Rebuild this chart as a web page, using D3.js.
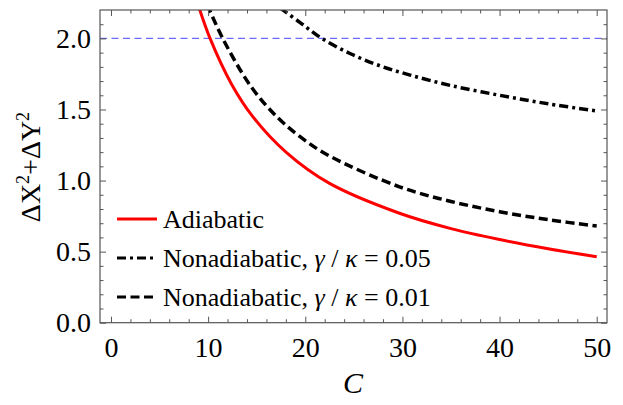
<!DOCTYPE html>
<html><head><meta charset="utf-8">
<script src="https://cdn.jsdelivr.net/npm/d3@7"></script>
<style>body{margin:0;background:#fff}svg{display:block}svg text{font-family:'Liberation Serif',serif}</style>
</head><body>
<svg id="chart" width="623" height="405"></svg>
<script>
// Data
const adiabaticC   = [9.0, 10.2, 12.4, 14.6, 18.1, 22.5, 29.7, 35, 40, 45, 50];
const adiabaticV   = [2.23, 2.0, 1.68, 1.45, 1.195, 0.98, 0.77, 0.662, 0.585, 0.52, 0.464];
const nonad001C    = [9.9, 11.5, 14.4, 17.1, 19.5, 22.3, 29.7, 35, 40, 45, 50];
const nonad001V    = [2.24, 2.0, 1.663, 1.447, 1.307, 1.18, 0.956, 0.853, 0.781, 0.725, 0.68];
const nonad005C    = [17.4, 19.5, 21.7, 24.6, 27.7, 30.8, 34.9, 40, 45, 50];
const nonad005V    = [2.215, 2.11, 2.0, 1.894, 1.807, 1.742, 1.67, 1.60, 1.54, 1.49];
const thresholdV   = 2.0;
const xMajor = [0, 10, 20, 30, 40, 50];
const yMajor = [0.0, 0.5, 1.0, 1.5, 2.0];
const legendLabels = ["Adiabatic", "Nonadiabatic, γ / κ = 0.05", "Nonadiabatic, γ / κ = 0.01"];

const svg = d3.select("#chart");
const L = 100, R = 607, T = 10, B = 322.7;
const x = d3.scaleLinear().domain([-1.13, 51.06]).range([L, R]);
const y = d3.scaleLinear().domain([0, 2.2]).range([B, T]);

const xMinor = d3.range(0, 51, 2).filter(v => v % 10 !== 0);
const yMinor = d3.range(0, 22).map(i => +(i / 10).toFixed(1)).filter(v => Math.abs(v * 2 - Math.round(v * 2)) > 1e-6);

const frameColor = "#555";
const font = "Liberation Serif";

svg.append("defs").append("clipPath").attr("id", "clip")
  .append("rect").attr("x", L).attr("y", T).attr("width", R - L).attr("height", B - T);

// threshold line
svg.append("line").attr("x1", L).attr("x2", R).attr("y1", y(thresholdV)).attr("y2", y(thresholdV))
  .attr("stroke", "#6b6bff").attr("stroke-width", 1.2).attr("stroke-dasharray", "7,4.5");

const line = d3.line().x(d => x(d[0])).y(d => y(d[1])).curve(d3.curveCatmullRom.alpha(0.5));
const g = svg.append("g").attr("clip-path", "url(#clip)");
g.append("path").datum(d3.zip(nonad005C, nonad005V)).attr("d", line)
  .attr("fill", "none").attr("stroke", "#000").attr("stroke-width", 3.5).attr("stroke-dasharray", "9,4,3,4");
g.append("path").datum(d3.zip(nonad001C, nonad001V)).attr("d", line)
  .attr("fill", "none").attr("stroke", "#000").attr("stroke-width", 3.5).attr("stroke-dasharray", "9,4.5");
g.append("path").datum(d3.zip(adiabaticC, adiabaticV)).attr("d", line)
  .attr("fill", "none").attr("stroke", "#ff0000").attr("stroke-width", 3);

// axes (ticks inward on all 4 sides)
function styleAxis(sel) {
  sel.attr("font-family", null).attr("font-size", null);
  sel.select(".domain").remove();
  sel.selectAll(".tick line").attr("stroke", frameColor).attr("stroke-width", 1);
  sel.selectAll("text").style("font-family", font).style("font-size", "28px").attr("fill", "#000");
}
svg.append("g").attr("transform", `translate(0,${B})`)
  .call(d3.axisBottom(x).tickValues(xMajor).tickSize(-6).tickPadding(14).tickFormat(d3.format("d")))
  .call(styleAxis);
svg.append("g").attr("transform", `translate(0,${B})`)
  .call(d3.axisBottom(x).tickValues(xMinor).tickSize(-3.5).tickFormat("")).call(styleAxis);
svg.append("g").attr("transform", `translate(0,${T})`)
  .call(d3.axisTop(x).tickValues(xMajor).tickSize(-6).tickFormat("")).call(styleAxis);
svg.append("g").attr("transform", `translate(0,${T})`)
  .call(d3.axisTop(x).tickValues(xMinor).tickSize(-3.5).tickFormat("")).call(styleAxis);
svg.append("g").attr("transform", `translate(${L},0)`)
  .call(d3.axisLeft(y).tickValues(yMajor).tickSize(-6).tickPadding(9).tickFormat(d3.format(".1f")))
  .call(styleAxis);
svg.append("g").attr("transform", `translate(${L},0)`)
  .call(d3.axisLeft(y).tickValues(yMinor).tickSize(-3.5).tickFormat("")).call(styleAxis);
svg.append("g").attr("transform", `translate(${R},0)`)
  .call(d3.axisRight(y).tickValues(yMajor).tickSize(-6).tickFormat("")).call(styleAxis);
svg.append("g").attr("transform", `translate(${R},0)`)
  .call(d3.axisRight(y).tickValues(yMinor).tickSize(-3.5).tickFormat("")).call(styleAxis);

// frame
svg.append("rect").attr("x", L).attr("y", T).attr("width", R - L).attr("height", B - T)
  .attr("fill", "none").attr("stroke", frameColor).attr("stroke-width", 1.2);

// axis titles
svg.append("text").attr("x", 353).attr("y", 393).attr("text-anchor", "middle")
  .style("font-family", font).style("font-size", "30px").attr("font-style", "italic").text("C");
const yl = svg.append("text").attr("transform", "translate(40,167) rotate(-90)")
  .attr("text-anchor", "middle").style("font-family", font).style("font-size", "28px");
yl.append("tspan").text("ΔX");
yl.append("tspan").style("font-size", "18px").attr("dy", -11).text("2");
yl.append("tspan").attr("dy", 11).text("+ΔY");
yl.append("tspan").style("font-size", "18px").attr("dy", -11).text("2");

// legend
const legY = [219, 258, 297];
const legStyles = [
  {stroke: "#ff0000", w: 3, dash: null},
  {stroke: "#000", w: 3, dash: "9,4,3,4"},
  {stroke: "#000", w: 3, dash: "9,4.5"}
];
legendLabels.forEach((lab, i) => {
  svg.append("line").attr("x1", 117).attr("x2", 157).attr("y1", legY[i]).attr("y2", legY[i])
    .attr("stroke", legStyles[i].stroke).attr("stroke-width", legStyles[i].w)
    .attr("stroke-dasharray", legStyles[i].dash);
  const t = svg.append("text").attr("x", 163).attr("y", legY[i] + 9)
    .style("font-family", font).style("font-size", "26px");
  const m = lab.match(/^(.*?)(γ)( \/ )(κ)(.*)$/);
  if (m) {
    t.append("tspan").text(m[1]);
    t.append("tspan").attr("font-style", "italic").text(m[2]);
    t.append("tspan").text(m[3]);
    t.append("tspan").attr("font-style", "italic").text(m[4]);
    t.append("tspan").text(m[5]);
  } else t.text(lab);
});
</script>
</body></html>
